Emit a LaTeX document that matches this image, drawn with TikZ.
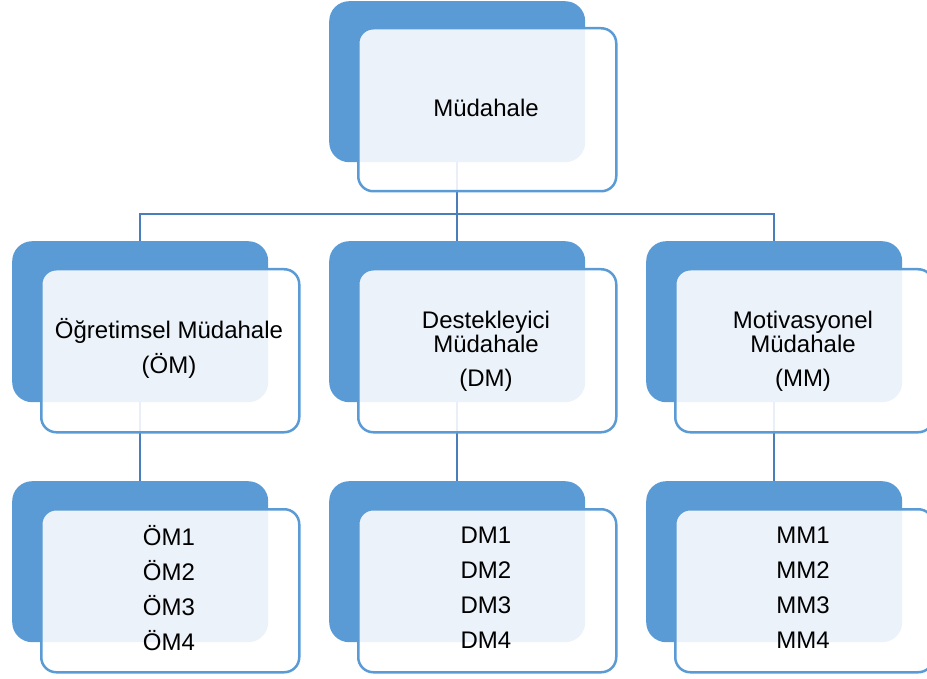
\documentclass[tikz,border=0pt]{standalone}
\usepackage{fontspec}
\setmainfont{Liberation Sans}
\definecolor{boxblue}{HTML}{5B9BD5}
\definecolor{lineblue}{HTML}{4A7EBB}
\begin{document}
\begin{tikzpicture}[x=1pt,y=-1pt,
  backbox/.style={fill=boxblue, draw=none, rounded corners=20pt, minimum width=256pt, minimum height=161pt, inner sep=0pt, anchor=north west},
  frontbox/.style={fill=white, fill opacity=0.88, text opacity=1, draw=boxblue, draw opacity=1, line width=2.5pt, rounded corners=15pt, minimum width=258pt, minimum height=163pt, inner sep=0pt, anchor=north west},
  conn/.style={draw=lineblue, line width=2.5pt},
  lbl/.style={font=\fontsize{24}{35}\selectfont, align=center, inner sep=0pt}
]
\useasboundingbox (0,0) rectangle (927,679);
% back boxes
\node[backbox] (b0) at (329,1) {};
\node[backbox] (b1) at (12,241) {};
\node[backbox] (b2) at (329,241) {};
\node[backbox] (b3) at (646,241) {};
\node[backbox] (c1) at (12,481) {};
\node[backbox] (c2) at (329,481) {};
\node[backbox] (c3) at (646,481) {};
% connectors
\coordinate (bus) at (458,214);
\draw[conn] (b0.south) -- (b2.north);
\draw[conn] (b1.north) |- (bus) -| (b3.north);
\draw[conn] (b1.south) -- (c1.north);
\draw[conn] (b2.south) -- (c2.north);
\draw[conn] (b3.south) -- (c3.north);
% front boxes
\node[frontbox] (f0) at (357,27) {};
\node[frontbox] (f1) at (40,268) {};
\node[frontbox] (f2) at (357,268) {};
\node[frontbox] (f3) at (674,268) {};
\node[frontbox] (g1) at (40,508) {};
\node[frontbox] (g2) at (357,508) {};
\node[frontbox] (g3) at (674,508) {};
% texts
\node[lbl] (t0) at (486,108) {Müdahale};
\node[lbl] (t1) at (169,348) {Öğretimsel Müdahale\\(ÖM)};
\node[lbl, font=\fontsize{24}{24}\selectfont] (t2a) at (486,332) {Destekleyici\\Müdahale};
\node[lbl] (t2b) at (486,380) {(DM)};
\node[lbl, font=\fontsize{24}{24}\selectfont] (t3a) at (803,332) {Motivasyonel\\Müdahale};
\node[lbl] (t3b) at (803,380) {(MM)};
\node[lbl] (u1) at (169,588) {ÖM1\\ÖM2\\ÖM3\\ÖM4};
\node[lbl] (u2) at (486,588) {DM1\\DM2\\DM3\\DM4};
\node[lbl] (u3) at (803,588) {MM1\\MM2\\MM3\\MM4};
\end{tikzpicture}
\end{document}
